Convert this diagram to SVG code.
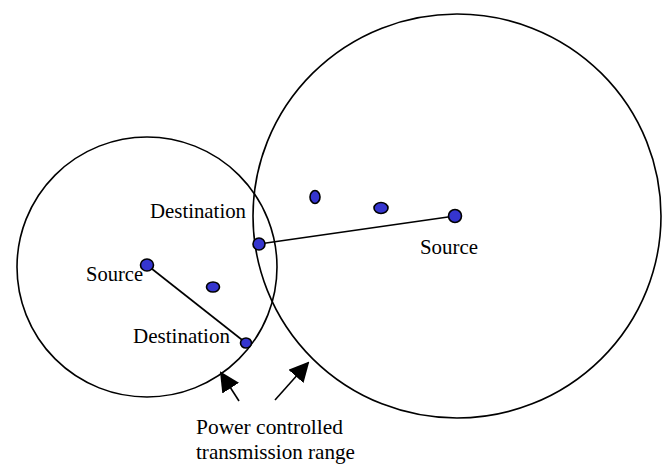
<svg xmlns="http://www.w3.org/2000/svg" width="663" height="464" viewBox="0 0 663 464">
<style>
.range{fill:none;stroke:#000;stroke-width:1.6}
.link{stroke:#000;stroke-width:1.6}
.node{fill:#3535cf;stroke:#000;stroke-width:1.6}
.lbl{font-family:"Liberation Serif","Times New Roman",serif;font-size:21px;fill:#000}
.ptr{stroke:#000;stroke-width:1.6}
</style>
<defs>
<marker id="ah" viewBox="0 0 10 10" refX="9" refY="5" markerWidth="20" markerHeight="20" markerUnits="userSpaceOnUse" orient="auto">
<path d="M0,0 L10,5 L0,10 z" fill="#000"/>
</marker>
</defs>
<rect width="663" height="464" fill="#fff"/>
<g id="range-left"><ellipse class="range" cx="147" cy="267" rx="130" ry="130"/></g>
<g id="range-right"><ellipse class="range" cx="457" cy="216" rx="204" ry="202"/></g>
<g id="connectors">
<line class="link" x1="147" y1="265" x2="246" y2="343"/>
<line class="link" x1="259" y1="244" x2="455" y2="216"/>
<line class="ptr" x1="239" y1="401" x2="221" y2="373" marker-end="url(#ah)"/>
<line class="ptr" x1="275" y1="400" x2="308" y2="363" marker-end="url(#ah)"/>
</g>
<g id="src-left"><ellipse class="node" cx="147" cy="265" rx="6.5" ry="6"/></g>
<g id="dst-left"><ellipse class="node" cx="246" cy="343" rx="5.5" ry="5"/></g>
<g id="mid-left"><ellipse class="node" cx="213" cy="287" rx="6.5" ry="5"/></g>
<g id="dst-right"><ellipse class="node" cx="259" cy="244" rx="6" ry="6"/></g>
<g id="dot-top"><ellipse class="node" cx="315" cy="197" rx="5" ry="6.5"/></g>
<g id="dot-mid"><ellipse class="node" cx="381" cy="208" rx="7" ry="5.5"/></g>
<g id="src-right"><ellipse class="node" cx="455" cy="216" rx="6.5" ry="6.5"/></g>
<g id="labels">
<text class="lbl" x="150" y="218" textLength="96" lengthAdjust="spacingAndGlyphs">Destination</text>
<text class="lbl" x="86" y="281" textLength="57" lengthAdjust="spacingAndGlyphs">Source</text>
<text class="lbl" x="133" y="343" textLength="97" lengthAdjust="spacingAndGlyphs">Destination</text>
<text class="lbl" x="420" y="254" textLength="58" lengthAdjust="spacingAndGlyphs">Source</text>
<text class="lbl" x="196" y="434" textLength="147" lengthAdjust="spacingAndGlyphs">Power controlled</text>
<text class="lbl" x="196" y="459" textLength="159" lengthAdjust="spacingAndGlyphs">transmission range</text>
</g>
</svg>
